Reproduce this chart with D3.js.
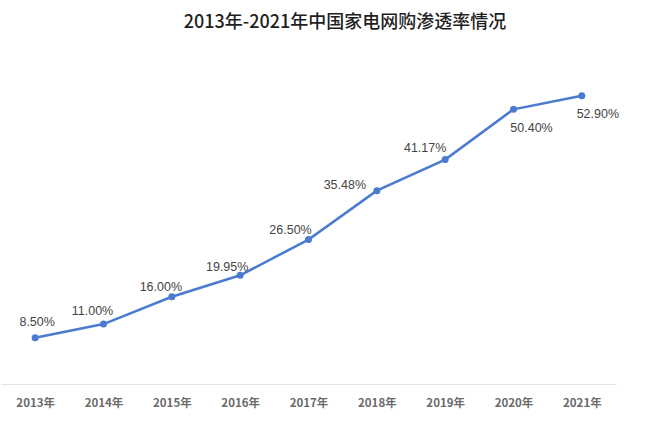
<!DOCTYPE html>
<html>
<head>
<meta charset="utf-8">
<script src="https://cdn.jsdelivr.net/npm/d3@7"></script>
<style>
  body { margin: 0; background: #fff; }
  svg { display: block; }
</style>
</head>
<body>
<div id="chart"></div>
<script>
// data
var years = ["2013年", "2014年", "2015年", "2016年", "2017年", "2018年", "2019年", "2020年", "2021年"];
var rates = [8.50, 11.00, 16.00, 19.95, 26.50, 35.48, 41.17, 50.40, 52.90];
var title = "2013年-2021年中国家电网购渗透率情况";

// label nudges relative to each point (dx, dy)
var labelNudge = [[2, -16], [-11, -13], [-11, -10], [-13, -9], [-18, -10], [-32, -6], [-20, -12], [18, 18], [16, 18]];

var width = 652, height = 425;
var margin = {top: 57, right: 36, bottom: 41, left: 1};

var svg = d3.select("#chart").append("svg")
  .attr("width", width)
  .attr("height", height);

var x = d3.scalePoint()
  .domain(years)
  .range([margin.left, width - margin.right])
  .padding(0.5);

var y = d3.scaleLinear()
  .domain([0, 60])
  .range([height - margin.bottom, margin.top]);

svg.append("text")
  .attr("x", 345)
  .attr("y", 28)
  .attr("text-anchor", "middle")
  .style("font-family", "'Noto Sans CJK SC', sans-serif")
  .style("font-size", "18px")
  .style("font-weight", "500")
  .style("fill", "#1e1e1e")
  .text(title);

// x axis
var xAxis = svg.append("g")
  .attr("transform", "translate(0," + (height - margin.bottom) + ")")
  .call(d3.axisBottom(x).tickSize(0).tickPadding(15));
xAxis.select(".domain").attr("stroke", "#e3e3e3").attr("stroke-width", 1);
xAxis.selectAll("text")
  .style("font-family", "'Noto Sans CJK SC', sans-serif")
  .style("font-size", "11.5px")
  .style("font-weight", "bold")
  .style("fill", "#6a6a6a");

var line = d3.line()
  .x(function(d, i) { return x(years[i]); })
  .y(function(d) { return y(d); });

svg.append("path")
  .datum(rates)
  .attr("d", line)
  .attr("fill", "none")
  .attr("stroke", "#4a7bd1")
  .attr("stroke-width", 2.5);

svg.selectAll(".dot").data(rates).enter().append("circle")
  .attr("class", "dot")
  .attr("cx", function(d, i) { return x(years[i]); })
  .attr("cy", function(d) { return y(d); })
  .attr("r", 3.5)
  .attr("fill", "#4a7bd1");

svg.selectAll(".lbl").data(rates).enter().append("text")
  .attr("class", "lbl")
  .attr("x", function(d, i) { return x(years[i]) + labelNudge[i][0]; })
  .attr("y", function(d, i) { return y(d) + labelNudge[i][1]; })
  .attr("dy", "0.35em")
  .attr("text-anchor", "middle")
  .style("font-family", "'Liberation Sans', Arial, sans-serif")
  .style("font-size", "12.5px")
  .style("fill", "#444")
  .text(function(d) { return d.toFixed(2) + "%"; });
</script>
</body>
</html>
